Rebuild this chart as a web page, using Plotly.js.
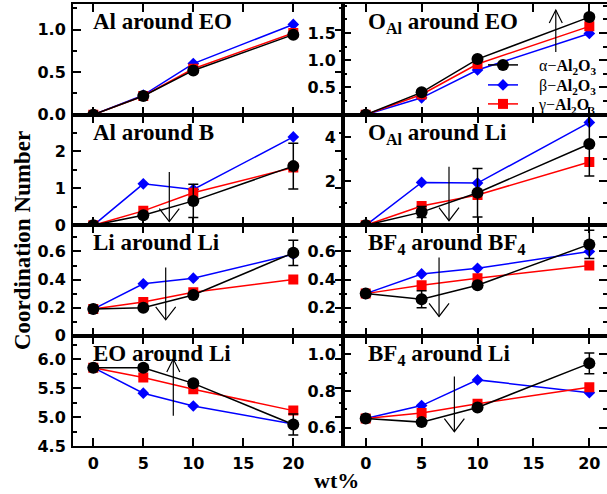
<!DOCTYPE html>
<html>
<head>
<meta charset="utf-8">
<script src="https://cdn.plot.ly/plotly-3.0.1.min.js"></script>
<style>html,body{margin:0;padding:0;background:#fff}#chart{width:607px;height:494px}</style>
</head>
<body>
<div id="chart"></div>
<script>
// ---- data ----
const wt = [0, 5, 10, 20];
const xTickVals = [0, 5, 10, 15, 20];
const xTickText = ['0', '5', '10', '15', '20'];
const seriesNames = ['α−<b>Al<sub>2</sub>O<sub>3</sub></b>', 'β−<b>Al<sub>2</sub>O<sub>3</sub></b>', 'γ−<b>Al<sub>2</sub>O<sub>3</sub></b>'];

// Al around EO
const alEO_alpha = [0, 0.22, 0.52, 0.94];
const alEO_beta  = [0, 0.23, 0.60, 1.06];
const alEO_gamma = [0, 0.22, 0.54, 0.96];
const alEO_err   = [0, 0, 0, 0];
// O_Al around EO
const oEO_alpha = [0, 0.41, 1.02, 1.79];
const oEO_beta  = [0, 0.31, 0.82, 1.49];
const oEO_gamma = [0, 0.37, 0.93, 1.62];
const oEO_err   = [0, 0, 0, 0.05];
// Al around B
const alB_alpha = [0, 0.27, 0.66, 1.60];
const alB_beta  = [0, 1.12, 0.97, 2.39];
const alB_gamma = [0, 0.39, 0.88, 1.56];
const alB_err   = [0, 0, 0.45, 0.62];
// O_Al around Li
const oLi_alpha = [0, 0.60, 1.48, 3.70];
const oLi_beta  = [0, 1.95, 1.92, 4.68];
const oLi_gamma = [0, 0.88, 1.38, 2.88];
const oLi_err   = [0, 0.25, 1.10, 1.46];
// Li around Li
const liLi_alpha = [0.19, 0.20, 0.29, 0.59];
const liLi_beta  = [0.19, 0.37, 0.41, 0.58];
const liLi_gamma = [0.19, 0.24, 0.31, 0.40];
const liLi_err   = [0, 0, 0, 0.09];
// BF4 around BF4
const bfBf_alpha = [0.30, 0.26, 0.36, 0.65];
const bfBf_beta  = [0.30, 0.44, 0.48, 0.60];
const bfBf_gamma = [0.30, 0.36, 0.41, 0.50];
const bfBf_err   = [0, 0.06, 0, 0.10];
// EO around Li
const eoLi_alpha = [5.85, 5.85, 5.58, 4.87];
const eoLi_beta  = [5.85, 5.41, 5.19, 4.88];
const eoLi_gamma = [5.85, 5.68, 5.48, 5.11];
const eoLi_err   = [0, 0.05, 0.05, 0.18];
// BF4 around Li
const bfLi_alpha = [0.65, 0.63, 0.71, 0.95];
const bfLi_beta  = [0.65, 0.72, 0.86, 0.79];
const bfLi_gamma = [0.65, 0.68, 0.73, 0.82];
const bfLi_err   = [0, 0, 0, 0.057];

const panelTitles = ['Al around EO', 'O<sub>Al</sub> around EO', 'Al around B', 'O<sub>Al</sub> around Li',
                     'Li around Li', 'BF<sub>4</sub> around BF<sub>4</sub>', 'EO around Li', 'BF<sub>4</sub> around Li'];

// y tick labels per panel
const yTicks1 = [0, 0.5, 1.0];      const yText1 = ['0.0', '0.5', '1.0'];
const yTicks2 = [0.5, 1.0, 1.5];    const yText2 = ['0.5', '1.0', '1.5'];
const yTicks3 = [0, 1, 2];          const yText3 = ['0', '1', '2'];
const yTicks4 = [2, 4];             const yText4 = ['2', '4'];
const yTicks5 = [0, 0.2, 0.4, 0.6]; const yText5 = ['0', '0.2', '0.4', '0.6'];
const yTicks6 = [0.2, 0.4, 0.6];    const yText6 = ['0.2', '0.4', '0.6'];
const yTicks7 = [4.5, 5.0, 5.5, 6.0]; const yText7 = ['4.5', '5.0', '5.5', '6.0'];
const yTicks8 = [0.6, 0.8, 1.0];    const yText8 = ['0.6', '0.8', '1.0'];

// arrows: [x, yStart, yTip]
const arrow2 = [17.0, 1.15, 1.92];
const arrow3 = [7.6, 1.44, 0.10];
const arrow4 = [7.45, 2.66, 0.21];
const arrow5 = [7.24, 0.486, 0.114];
const arrow6 = [6.56, 0.557, 0.138];
const arrow7 = [8.0, 5.02, 6.0];
const arrow8 = [7.93, 0.878, 0.578];

// ---- build ----
const panels = [
  {a: alEO_alpha, b: alEO_beta, g: alEO_gamma, e: alEO_err, tv: yTicks1, tt: yText1, range: [0, 1.3],   minor: [0, 0.25], arrow: null},
  {a: oEO_alpha,  b: oEO_beta,  g: oEO_gamma,  e: oEO_err,  tv: yTicks2, tt: yText2, range: [0, 2.03],  minor: [0, 0.25], arrow: arrow2},
  {a: alB_alpha,  b: alB_beta,  g: alB_gamma,  e: alB_err,  tv: yTicks3, tt: yText3, range: [0, 2.99],  minor: [0, 0.5],  arrow: arrow3},
  {a: oLi_alpha,  b: oLi_beta,  g: oLi_gamma,  e: oLi_err,  tv: yTicks4, tt: yText4, range: [0, 5.03],  minor: [0, 1],    arrow: arrow4},
  {a: liLi_alpha, b: liLi_beta, g: liLi_gamma, e: liLi_err, tv: yTicks5, tt: yText5, range: [0, 0.786], minor: [0, 0.1],  arrow: arrow5},
  {a: bfBf_alpha, b: bfBf_beta, g: bfBf_gamma, e: bfBf_err, tv: yTicks6, tt: yText6, range: [0, 0.786], minor: [0, 0.1],  arrow: arrow6},
  {a: eoLi_alpha, b: eoLi_beta, g: eoLi_gamma, e: eoLi_err, tv: yTicks7, tt: yText7, range: [4.5, 6.4], minor: [4.5, 0.25], arrow: arrow7},
  {a: bfLi_alpha, b: bfLi_beta, g: bfLi_gamma, e: bfLi_err, tv: yTicks8, tt: yText8, range: [0.5, 1.1], minor: [0.5, 0.1], arrow: arrow8}
];

const W = 607, H = 494;
const colL = [73 / W, 343 / W], colR = [343 / W, 1.0];
const rowEdges = [4, 114.7, 225.3, 335.8, 446].map(p => 1 - p / H);
const tickFont = {family: 'DejaVu Sans', size: 16, color: '#000', weight: 'bold'};
const legendFont = {family: 'Liberation Serif', size: 16, color: '#000'};
const pad = '\u00a0\u00a0\u00a0\u00a0';

function legendBox(yPix) {
  return {x: 483 / W, xanchor: 'left', y: 1 - yPix / H, yanchor: 'middle', bgcolor: 'rgba(0,0,0,0)',
          font: legendFont, itemwidth: 30, borderwidth: 0};
}

const traces = [];
const layout = {
  width: W, height: H,
  margin: {l: 0, r: 0, t: 0, b: 0},
  paper_bgcolor: '#fff', plot_bgcolor: '#fff',
  showlegend: true,
  legend: legendBox(65), legend2: legendBox(85), legend3: legendBox(104),
  annotations: [], shapes: []
};

const styles = [
  {key: 'b', name: seriesNames[1], color: '#0000ff', symbol: 'diamond', size: 9, legend: 'legend2'},
  {key: 'g', name: seriesNames[2], color: '#ff0000', symbol: 'square', size: 10, legend: 'legend3'},
  {key: 'a', name: seriesNames[0], color: '#000000', symbol: 'circle', size: 12, legend: 'legend'}
];

panels.forEach((p, i) => {
  const n = i + 1;
  const xa = n === 1 ? 'x' : 'x' + n, ya = n === 1 ? 'y' : 'y' + n;
  const right = i % 2 === 1;
  const row = Math.floor(i / 2);
  styles.forEach(s => {
    const tr = {
      x: wt, y: p[s.key], xaxis: xa, yaxis: ya, type: 'scatter', mode: 'lines+markers',
      name: pad + s.name, legendgroup: s.key, legend: s.legend, showlegend: i === 0,
      line: {color: s.color, width: 1.5},
      marker: {color: s.color, symbol: s.symbol, size: s.size, line: {width: 0}},
      cliponaxis: true
    };
    if (s.key === 'a') {
      tr.error_y = {type: 'data', array: p.e, visible: true, color: '#000', thickness: 1.5, width: 5};
    }
    traces.push(tr);
  });
  const axBase = {
    showline: true, linewidth: 2, linecolor: '#000', mirror: 'ticks', ticks: 'inside',
    ticklen: 8, tickwidth: 2, tickcolor: '#000', showgrid: false, zeroline: false,
    tickfont: tickFont
  };
  layout['xaxis' + (n === 1 ? '' : n)] = Object.assign({}, axBase, {
    domain: right ? colR : colL, anchor: ya,
    range: right ? [-2.03, 21.58] : [-2.03, 24.97],
    tickmode: 'array', tickvals: xTickVals, ticktext: xTickText,
    showticklabels: row === 3, ticklabelstandoff: 2
  });
  layout['yaxis' + (n === 1 ? '' : n)] = Object.assign({}, axBase, {
    domain: [rowEdges[row + 1], rowEdges[row]], anchor: xa,
    range: p.range, tickmode: 'array', tickvals: p.tv, ticktext: p.tt,
    minor: {ticks: 'inside', ticklen: 4, tickwidth: 2, tickcolor: '#000', tickmode: 'linear', tick0: p.minor[0], dtick: p.minor[1], showgrid: false},
    ticklabelstandoff: 2
  });
  // panel title
  layout.annotations.push({
    text: '<b>' + panelTitles[i] + '</b>', xref: 'paper', yref: 'paper',
    x: (right ? 366 : 91) / W, xanchor: 'left',
    y: rowEdges[row] - 3 / H, yanchor: 'top', showarrow: false,
    font: {family: 'Liberation Serif', size: 23, color: '#000'}
  });
  // arrow
  if (p.arrow) {
    const [ax, y0, y1] = p.arrow;
    layout.shapes.push({type: 'line', xref: xa, yref: ya, x0: ax, x1: ax, y0: y0, y1: y1, line: {color: '#000', width: 1.2}});
    const up = y1 > y0;
    layout.shapes.push({type: 'path', xref: xa, yref: ya, xsizemode: 'pixel', ysizemode: 'pixel', xanchor: ax, yanchor: y1,
      path: up ? 'M-6.5,-13L0,0L6.5,-13' : 'M-10,13L0,0L10,13', line: {color: '#000', width: 1.2}});
  }
});

// axis titles
layout.annotations.push({
  text: '<b>Coordination Number</b>', xref: 'paper', yref: 'paper', x: 22 / W, y: 1 - 241 / H,
  xanchor: 'center', yanchor: 'middle',
  textangle: -90, showarrow: false, font: {family: 'Liberation Serif', size: 23, color: '#000'}
});
layout.annotations.push({
  text: '<b>wt%</b>', xref: 'paper', yref: 'paper', x: 336 / W, y: 1 - 480 / H,
  xanchor: 'center', yanchor: 'middle', borderpad: 0,
  showarrow: false, font: {family: 'Liberation Serif', size: 22, color: '#000'}
});

Plotly.newPlot('chart', traces, layout, {displayModeBar: false, staticPlot: true});
</script>
</body>
</html>
